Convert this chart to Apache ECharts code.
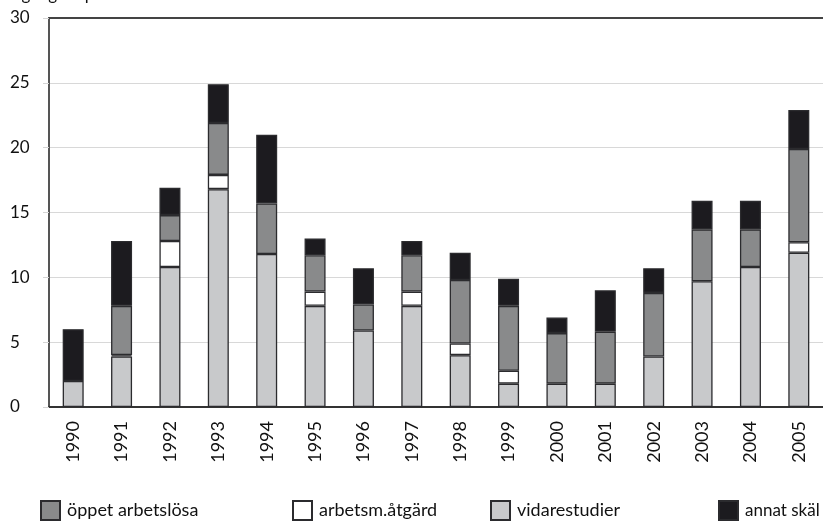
<!DOCTYPE html>
<html>
<head>
<meta charset="utf-8">
<script src="https://cdn.jsdelivr.net/npm/echarts@6/dist/echarts.min.js"></script>
<style>
html,body{margin:0;padding:0;background:#fff;}
#c{width:823px;height:522px;}
</style>
</head>
<body>
<div id="c"></div>
<script>
var years = ['1990','1991','1992','1993','1994','1995','1996','1997','1998','1999','2000','2001','2002','2003','2004','2005'];
var vidarestudier = [2.0, 3.9, 10.8, 16.8, 11.8, 7.8, 5.9, 7.8, 4.0, 1.8, 1.8, 1.8, 3.9, 9.7, 10.8, 11.9];
var arbetsmAtgard = [0, 0.1, 2.0, 1.1, 0, 1.1, 0, 1.1, 0.9, 1.0, 0, 0, 0, 0, 0, 0.8];
var oppetArbetslosa = [0, 3.8, 2.0, 4.0, 3.9, 2.8, 2.0, 2.8, 4.9, 5.0, 3.9, 4.0, 4.9, 4.0, 2.9, 7.2];
var annatSkal = [4.0, 5.0, 2.1, 3.0, 5.3, 1.3, 2.8, 1.1, 2.1, 2.1, 1.2, 3.2, 1.9, 2.2, 2.2, 3.0];
var yTicks = [0, 5, 10, 15, 20, 25, 30];

var FONT = 'Lato, "Open Sans", sans-serif';
function clean(a){ return a.map(function(v){ return v === 0 ? '-' : v; }); }
function bar(name, data, color){
  return {
    name: name, type: 'bar', stack: 'tot', data: clean(data),
    barWidth: 21,
    itemStyle: { color: color, borderColor: '#2b2b2e', borderWidth: 1.3 },
    emphasis: { disabled: true }
  };
}
var chart = echarts.init(document.getElementById('c'), null, {renderer: 'canvas'});
function legend(name, left, size, pad){
  return {
    data: [name], left: left, top: 500, icon: 'rect', padding: 0,
    itemWidth: 19, itemHeight: 19, itemGap: 0,
    textStyle: { fontFamily: FONT, fontSize: size, color: '#111', padding: [0,0,0,pad] },
    selectedMode: false
  };
}
chart.setOption({
  animation: false,
  graphic: [{
    type: 'text', left: 2, top: -14,
    style: { text: 'Avgångare per år', fontFamily: FONT, fontSize: 17, fill: '#111' }
  }],
  legend: [
    legend('öppet arbetslösa', 40, 18, 2),
    legend('arbetsm.åtgärd', 292, 18, 2),
    legend('vidarestudier', 490, 18, 2),
    legend('annat skäl', 718, 17, 2)
  ],
  grid: { left: 49, top: 18, width: 776, height: 389, containLabel: false },
  xAxis: [{
    type: 'category', data: years, position: 'bottom',
    axisLine: { lineStyle: { color: '#333', width: 2 } },
    axisTick: { show: false },
    axisLabel: { rotate: 90, fontFamily: FONT, fontSize: 18, color: '#111', margin: 14 }
  }, {
    type: 'category', data: years, position: 'top',
    axisLine: { show: true, lineStyle: { color: '#444', width: 2 } },
    axisTick: { show: false }, axisLabel: { show: false }
  }],
  yAxis: {
    type: 'value', min: yTicks[0], max: yTicks[yTicks.length-1], interval: 5,
    axisLine: { show: true, lineStyle: { color: '#555', width: 2 } },
    axisTick: { show: true, length: 6, lineStyle: { color: '#d4d4d4' } },
    splitLine: { lineStyle: { color: '#d8d8d8', width: 1.2 } },
    axisLabel: { fontFamily: FONT, fontSize: 17, color: '#111', align: 'left', margin: 39 }
  },
  series: [
    bar('vidarestudier', vidarestudier, '#c8c9cb'),
    bar('arbetsm.åtgärd', arbetsmAtgard, '#ffffff'),
    bar('öppet arbetslösa', oppetArbetslosa, '#898a8b'),
    bar('annat skäl', annatSkal, '#1c1b1f')
  ]
});
</script>
</body>
</html>
